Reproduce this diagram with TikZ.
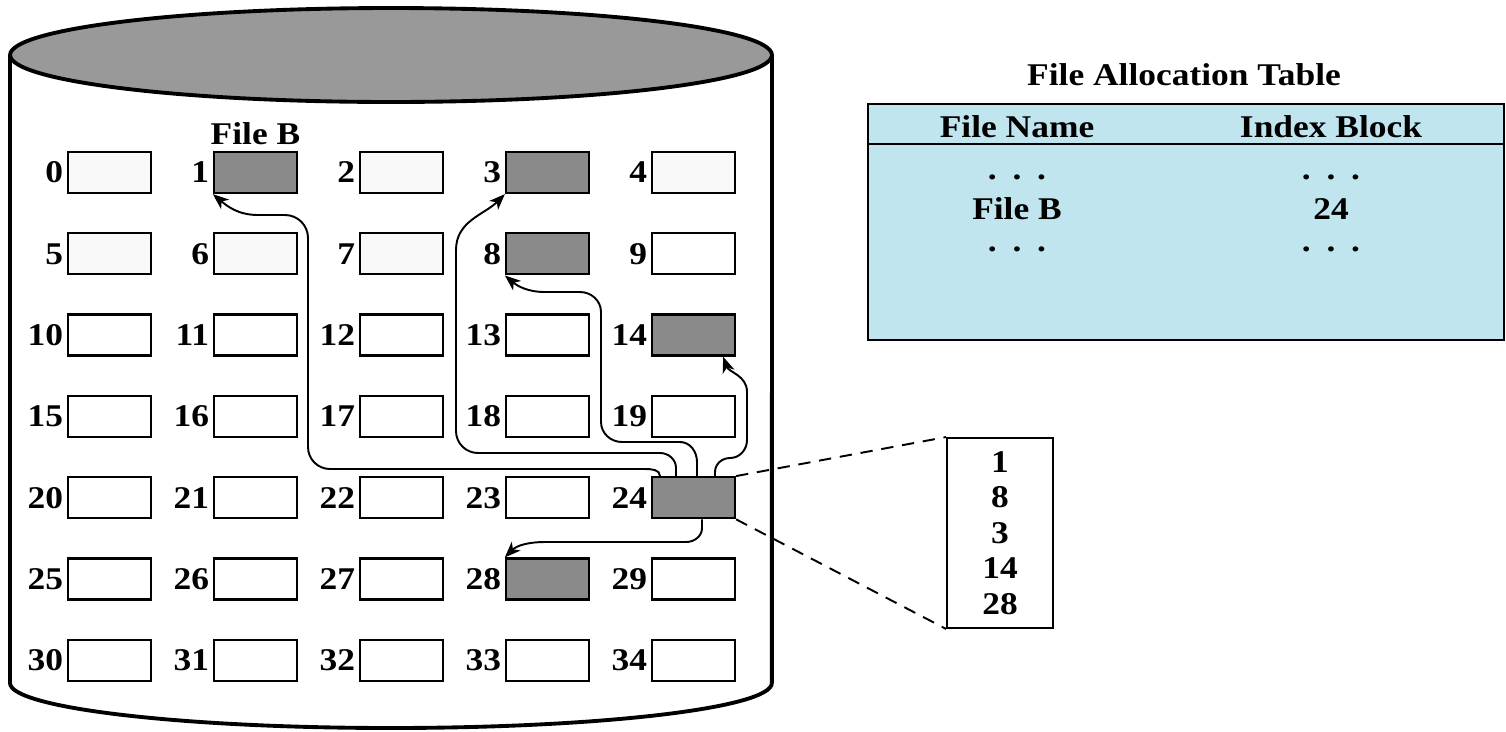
\documentclass[tikz,border=0pt]{standalone}
\usepackage{fontspec}
\setmainfont{Liberation Serif}[FakeStretch=1.12]
\usetikzlibrary{positioning,arrows.meta}

\definecolor{blkgray}{RGB}{138,138,138}
\definecolor{blkwhite}{RGB}{249,249,249}
\definecolor{topgray}{RGB}{153,153,153}
\definecolor{fatblue}{RGB}{193,229,239}

\begin{document}
\begin{tikzpicture}[x=0.02cm, y=0.02cm, font=\fontsize{18}{20.2}\selectfont\bfseries]
    % block and arrow styles
    \tikzstyle{block} = [rectangle, minimum width=1.66cm, minimum height=0.82cm, draw=black, line width=1.3pt]
    \tikzstyle{usedblock} = [block, fill=blkgray]
    \tikzstyle{lightblock} = [block, fill=blkwhite]
    \tikzstyle{freeblock} = [block, fill=white]
    \tikzstyle{num} = [inner sep=1pt]
    \tikzstyle{arrow} = [line width=1.1pt,->,>={Stealth[length=9pt,width=7pt,inset=2.5pt]}]
    \tikzstyle{zoomline} = [line width=1.1pt, dash pattern=on 7pt off 5pt]

    \useasboundingbox (0,0) rectangle (1506,-731);

    % the disk
    \draw [line width=2.2pt] (10,-55) -- (10,-683) arc [start angle=180, end angle=360, x radius=7.62cm, y radius=0.9cm] -- (772,-55);
    \draw [line width=2.2pt, fill=topgray] (391,-55) ellipse [x radius=7.62cm, y radius=0.94cm];

    % blocks 0..34
    \foreach \i/\kind in {0/lightblock, 1/usedblock, 2/lightblock, 3/usedblock, 4/lightblock,
                          5/lightblock, 6/lightblock, 7/lightblock, 8/usedblock, 9/freeblock,
                          10/freeblock, 11/freeblock, 12/freeblock, 13/freeblock, 14/usedblock,
                          15/freeblock, 16/freeblock, 17/freeblock, 18/freeblock, 19/freeblock,
                          20/freeblock, 21/freeblock, 22/freeblock, 23/freeblock, 24/usedblock,
                          25/freeblock, 26/freeblock, 27/freeblock, 28/usedblock, 29/freeblock,
                          30/freeblock, 31/freeblock, 32/freeblock, 33/freeblock, 34/freeblock} {
        \pgfmathtruncatemacro{\col}{mod(\i,5)}
        \pgfmathtruncatemacro{\row}{div(\i,5)}
        \node [\kind] (b\i) at ({109.5+146*\col},{-172.5-81.3*\row}) {};
        \node [num, left=1pt of b\i] (n\i) {\i};
    }
    \node [num, above=2pt of b1] (fileb) {File B};

    % index block 24 points to the data blocks
    \draw [arrow] ([xshift=-0.67cm]b24.north) to[out=90,in=0] (645,-469) -- (330,-469) to[out=180,in=-90] (308,-447) -- (308,-238) to[out=90,in=0] (285,-215) -- (258,-215) to[out=180,in=-40] (b1.south west);
    \draw [arrow] ([xshift=-0.35cm]b24.north) -- (676,-468) to[out=90,in=0] (660,-453) -- (478,-453) to[out=180,in=-90] (456,-431) -- (456,-250) to[out=90,in=-135] (b3.south west);
    \draw [arrow] ([xshift=0.07cm]b24.north) -- (697,-462) to[out=90,in=0] (680,-442) -- (622,-442) to[out=180,in=-90] (601,-422) -- (601,-312) to[out=90,in=0] (580,-292) -- (545,-292) to[out=180,in=-40] (b8.south west);
    \draw [arrow] ([xshift=0.43cm]b24.north) -- (715,-472) to[out=90,in=180] (730,-458) to[out=0,in=-90] (747,-440) -- (747,-392) to[out=90,in=-70] ([xshift=-0.26cm]b14.south east);
    \draw [arrow] ([xshift=0.17cm]b24.south) -- (702,-528) to[out=-90,in=0] (686,-542) -- (545,-542) to[out=180,in=45] (b28.north west);

    % contents of the index block
    \node [draw, line width=1.1pt, minimum width=2.12cm, minimum height=3.8cm, align=center, inner sep=0pt] (idx) at (1000,-533) {1\\8\\3\\14\\28};
    \draw [zoomline] (b24.north east) -- (idx.north west);
    \draw [zoomline] (b24.south east) -- (idx.south west);

    % file allocation table
    \node (title) at (1184,-75) {File Allocation Table};
    \node [draw, line width=1.3pt, fill=fatblue, minimum width=12.72cm, minimum height=4.72cm] (fat) at (1186,-222) {};
    \draw [line width=1.3pt] ([yshift=-0.82cm]fat.north west) -- ([yshift=-0.82cm]fat.north east);
    \node (hname) at (1017,-127) {File Name};
    \node (hidx) at (1331,-127) {Index Block};
    \node (dots1) at (1017,-177) {.\enspace.\enspace.};
    \node (dots2) at (1331,-177) {.\enspace.\enspace.};
    \node (fname) at (1017,-209) {File B};
    \node (fidx) at (1331,-209) {24};
    \node (dots3) at (1017,-249) {.\enspace.\enspace.};
    \node (dots4) at (1331,-249) {.\enspace.\enspace.};
\end{tikzpicture}
\end{document}
